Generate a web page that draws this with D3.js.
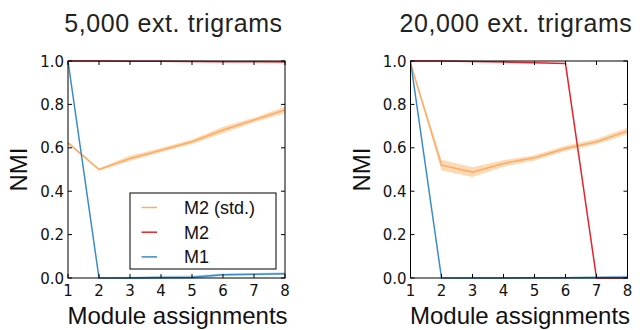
<!DOCTYPE html>
<html>
<head>
<meta charset="utf-8">
<script src="https://cdn.jsdelivr.net/npm/d3@7"></script>
<style>
  body { margin: 0; background: #fff; }
  svg { display: block; }
</style>
</head>
<body>
<script>
// x values (number of module assignments)
var assignments = [1, 2, 3, 4, 5, 6, 7, 8];
var yTicks = [0, 0.2, 0.4, 0.6, 0.8, 1.0];

// 5,000 ext. trigrams
var left_m2std = [0.623, 0.500, 0.551, 0.589, 0.628, 0.682, 0.728, 0.774];
var left_m2stdErr = [0.006, 0.006, 0.012, 0.01, 0.01, 0.015, 0.01, 0.015];
var left_m2 = [1.0, 1.0, 0.999, 0.999, 0.998, 0.997, 0.996, 0.995];
var left_m1 = [1.0, 0.0, 0.0, 0.002, 0.003, 0.015, 0.017, 0.02];
var left_m1Err = [0.0, 0.0, 0.006, 0.008, 0.008, 0.006, 0.006, 0.006];

// 20,000 ext. trigrams
var right_m2std = [0.99, 0.52, 0.488, 0.528, 0.554, 0.597, 0.628, 0.677];
var right_m2stdErr = [0.005, 0.025, 0.022, 0.015, 0.012, 0.012, 0.012, 0.015];
var right_m2 = [1.0, 1.0, 0.998, 0.995, 0.992, 0.988, 0.0, 0.0];
var right_m1 = [1.0, 0.0, 0.0, 0.0, 0.001, 0.001, 0.002, 0.003];
var right_m1Err = [0.0, 0.0, 0.002, 0.003, 0.004, 0.005, 0.006, 0.008];

var titles = ["5,000 ext. trigrams", "20,000 ext. trigrams"];
var legendLabels = ["M2 (std.)", "M2", "M1"];

var orange = "#fdac63", red = "#e3242b", blue = "#3a8cc4";

var width = 640, height = 330;
var svg = d3.select("body").append("svg")
    .attr("width", width)
    .attr("height", height);

var panels = [
    { left: 68, right: 285, title: titles[0],
      m2std: left_m2std, m2stdErr: left_m2stdErr, m2: left_m2, m1: left_m1, m1Err: left_m1Err, legend: true },
    { left: 410.5, right: 627.5, title: titles[1],
      m2std: right_m2std, m2stdErr: right_m2stdErr, m2: right_m2, m1: right_m1, m1Err: right_m1Err, legend: false }
];
var plotTop = 61, plotBottom = 278;

panels.forEach(function (p) {
    var x = d3.scaleLinear().domain([1, 8]).range([p.left, p.right]);
    var y = d3.scaleLinear().domain([0, 1]).range([plotBottom, plotTop]);
    var g = svg.append("g");

    var area = d3.area()
        .x(function (d, i) { return x(assignments[i]); })
        .y0(function (d) { return y(d[0] - d[1]); })
        .y1(function (d) { return y(d[0] + d[1]); });
    var line = d3.line()
        .x(function (d, i) { return x(assignments[i]); })
        .y(function (d) { return y(d); });

    // bands
    g.append("path")
        .datum(d3.zip(p.m1, p.m1Err))
        .attr("d", area)
        .attr("fill", "#9ecae1").attr("opacity", 0.6);
    g.append("path")
        .datum(d3.zip(p.m2std, p.m2stdErr))
        .attr("d", area)
        .attr("fill", "#fdd0a2").attr("opacity", 0.8);

    // lines
    [[p.m2std, orange], [p.m1, blue], [p.m2, red]].forEach(function (s) {
        g.append("path")
            .datum(s[0])
            .attr("d", line)
            .attr("fill", "none")
            .attr("stroke", s[1])
            .attr("stroke-width", 1.5);
    });

    // ticks inward on all sides
    var tl = 4;
    assignments.forEach(function (v) {
        g.append("line").attr("x1", x(v)).attr("x2", x(v))
            .attr("y1", plotBottom).attr("y2", plotBottom - tl).attr("stroke", "#000");
        g.append("line").attr("x1", x(v)).attr("x2", x(v))
            .attr("y1", plotTop).attr("y2", plotTop + tl).attr("stroke", "#000");
        g.append("text")
            .attr("x", x(v)).attr("y", plotBottom + 18)
            .attr("text-anchor", "middle")
            .attr("font-family", "DejaVu Sans")
            .attr("font-size", "15px")
            .attr("fill", "#111")
            .text(v);
    });
    yTicks.forEach(function (v) {
        g.append("line").attr("x1", p.left).attr("x2", p.left + tl)
            .attr("y1", y(v)).attr("y2", y(v)).attr("stroke", "#000");
        g.append("line").attr("x1", p.right).attr("x2", p.right - tl)
            .attr("y1", y(v)).attr("y2", y(v)).attr("stroke", "#000");
        g.append("text")
            .attr("x", p.left - 4).attr("y", y(v) + 5.5)
            .attr("text-anchor", "end")
            .attr("font-family", "DejaVu Sans")
            .attr("font-size", "15px")
            .attr("fill", "#111")
            .text(d3.format(".1f")(v));
    });

    // frame
    g.append("rect")
        .attr("x", p.left).attr("y", plotTop)
        .attr("width", p.right - p.left).attr("height", plotBottom - plotTop)
        .attr("fill", "none").attr("stroke", "#000").attr("stroke-width", 1);

    // title and axis labels
    g.append("text")
        .attr("x", (p.left + p.right) / 2 - 3).attr("y", 32)
        .attr("text-anchor", "middle")
        .attr("font-family", "Liberation Sans")
        .attr("font-size", "25px")
        .attr("letter-spacing", "0.6px")
        .attr("fill", "#222")
        .text(p.title);
    g.append("text")
        .attr("x", (p.left + p.right) / 2 + 1).attr("y", 324)
        .attr("text-anchor", "middle")
        .attr("font-family", "Liberation Sans")
        .attr("font-size", "24px")
        .attr("fill", "#111")
        .text("Module assignments");
    g.append("text")
        .attr("transform", "translate(" + (p.left - 41) + "," + ((plotTop + plotBottom) / 2) + ") rotate(-90)")
        .attr("text-anchor", "middle")
        .attr("font-family", "Liberation Sans")
        .attr("font-size", "24px")
        .attr("fill", "#111")
        .text("NMI");

    if (p.legend) {
        var lg = g.append("g");
        lg.append("rect")
            .attr("x", 130).attr("y", 193)
            .attr("width", 146).attr("height", 76)
            .attr("fill", "#fff").attr("stroke", "#000").attr("stroke-width", 1);
        var colors = [orange, red, blue];
        legendLabels.forEach(function (label, i) {
            var ly = 207.5 + i * 24.7;
            lg.append("line")
                .attr("x1", 141.5).attr("x2", 157)
                .attr("y1", ly).attr("y2", ly)
                .attr("stroke", colors[i]).attr("stroke-width", 1.5);
            lg.append("text")
                .attr("x", 184).attr("y", ly + 6.5)
                .attr("font-family", "Liberation Sans")
                .attr("font-size", "18px")
                .attr("fill", "#111")
                .text(label);
        });
    }
});
</script>
</body>
</html>
